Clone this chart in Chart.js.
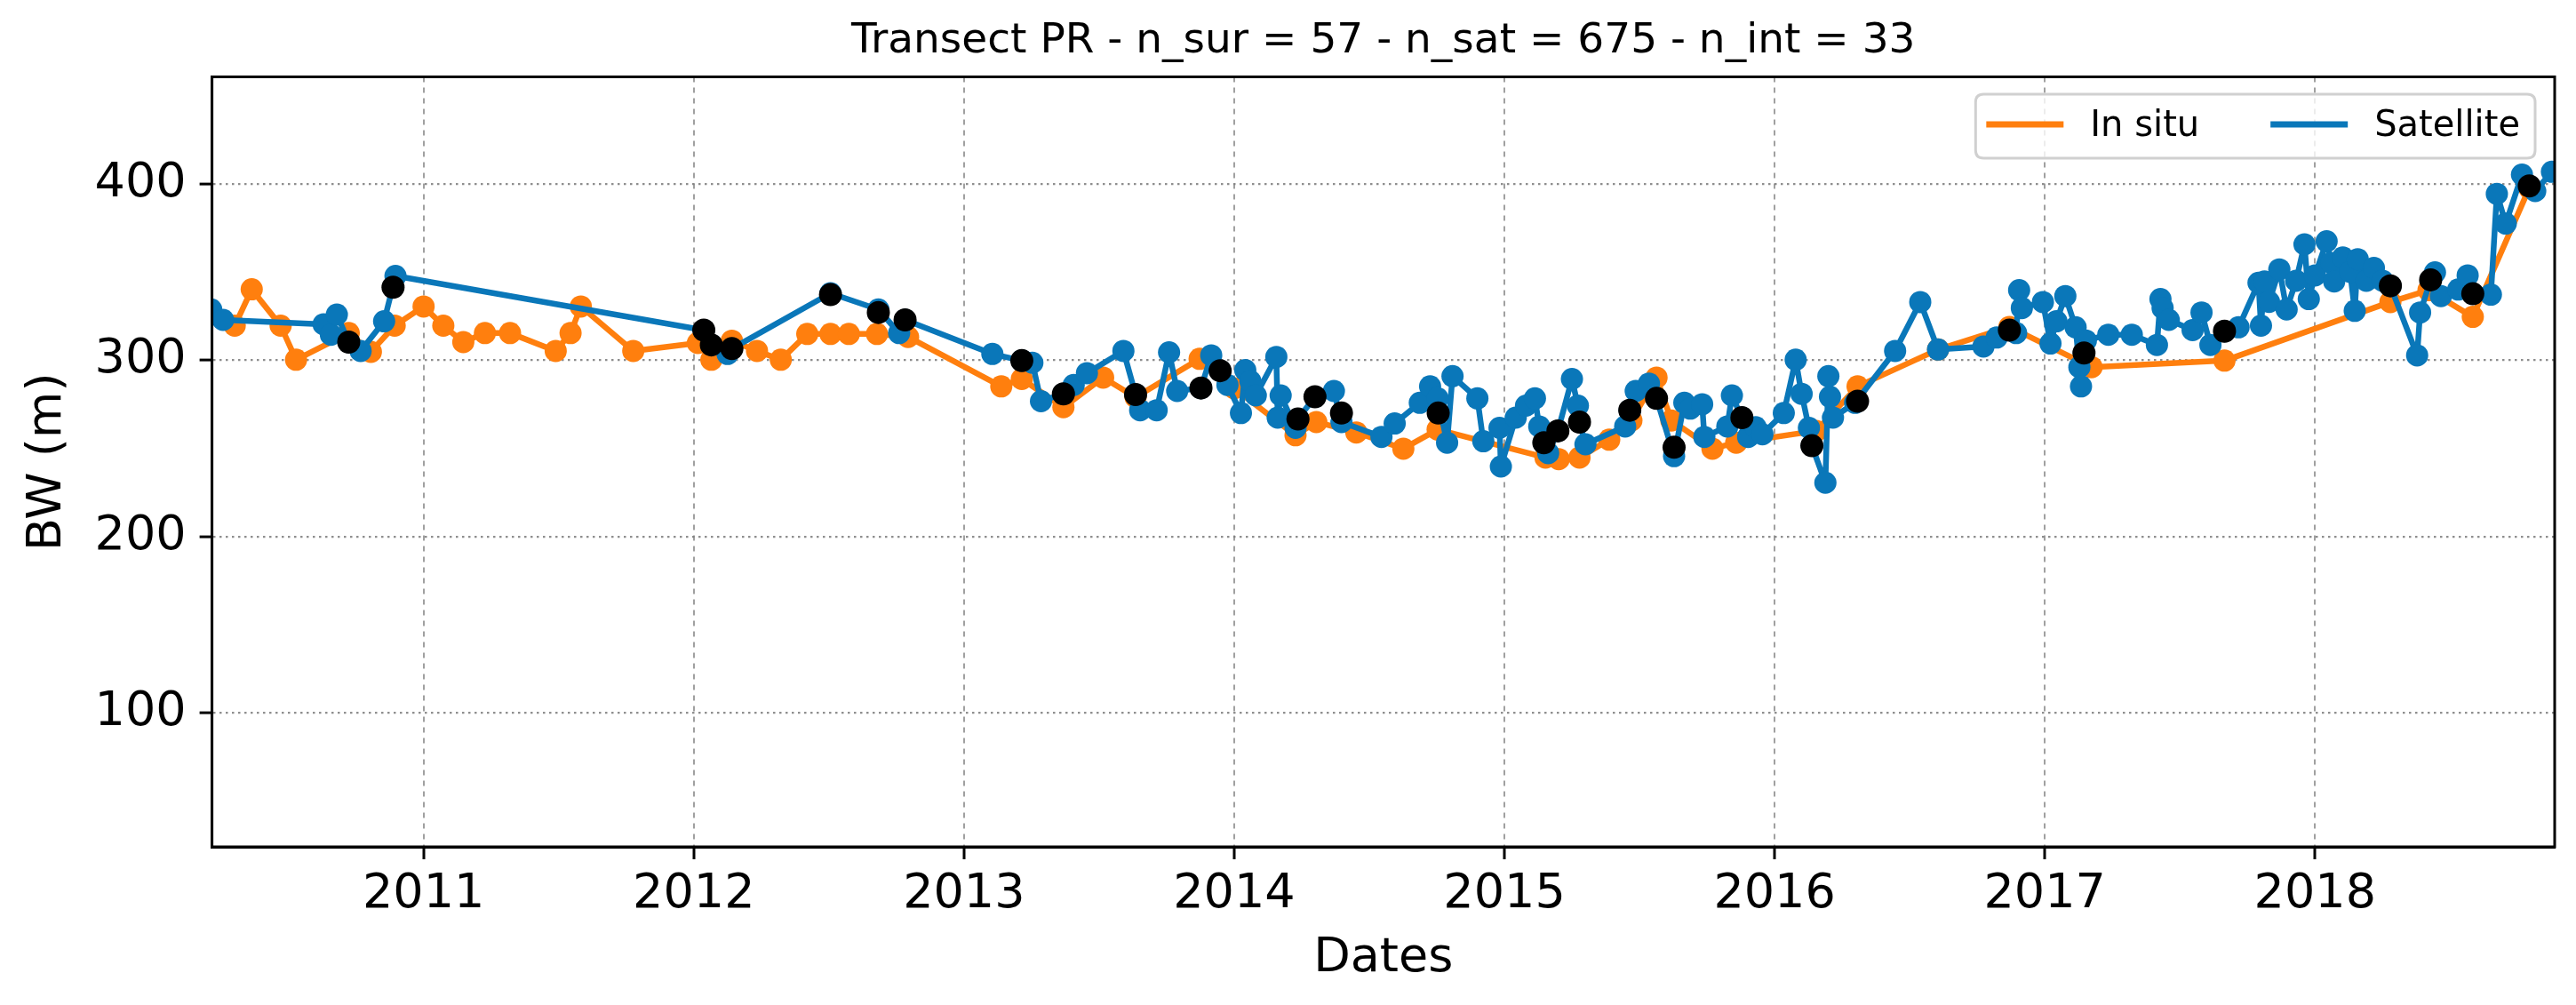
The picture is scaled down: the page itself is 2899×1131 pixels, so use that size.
<!DOCTYPE html>
<html>
<head>
<meta charset="utf-8">
<script src="https://cdn.jsdelivr.net/npm/chart.js@4.4.1/dist/chart.umd.min.js"></script>
<style>
html,body{margin:0;padding:0;background:#ffffff;}
#wrap{width:2899px;height:1131px;}
canvas{display:block;}
</style>
</head>
<body>
<div id="wrap"><canvas id="c" width="2899" height="1131" style="width:2899px;height:1131px"></canvas></div>
<script>
// ---------- data ----------
const titleText = 'Transect PR - n_sur = 57 - n_sat = 675 - n_int = 33';
const xTickYears = [2011, 2012, 2013, 2014, 2015, 2016, 2017, 2018];
const yTickValues = [100, 200, 300, 400];

const insituYears = [2010.301, 2010.364, 2010.471, 2010.528, 2010.723, 2010.805, 2010.893, 2011.000, 2011.073, 2011.147,
  2011.227, 2011.320, 2011.489, 2011.544, 2011.582, 2011.776, 2012.015, 2012.065, 2012.141, 2012.234,
  2012.322, 2012.420, 2012.506, 2012.574, 2012.678, 2012.793, 2013.138, 2013.214, 2013.368, 2013.515,
  2013.635, 2013.872, 2014.000, 2014.227, 2014.304, 2014.452, 2014.626, 2014.753, 2015.152, 2015.201,
  2015.278, 2015.388, 2015.470, 2015.563, 2015.618, 2015.770, 2015.858, 2016.154, 2016.307, 2016.605,
  2016.869, 2017.173, 2017.665, 2018.279, 2018.420, 2018.584, 2018.793];
const insituBW = [319.5, 340.1, 319.5, 300.2, 315.3, 304.7, 319.5, 330.4, 319.5, 310.2,
  315.3, 315.3, 305.2, 315.3, 330.4, 305.2, 309.7, 300.2, 311.0, 305.2,
  300.2, 314.8, 314.8, 314.8, 314.8, 313.1, 285.1, 289.3, 273.3, 290.1,
  279.0, 300.7, 284.0, 257.4, 264.9, 259.0, 249.8, 260.7, 244.8, 243.9,
  244.8, 254.9, 265.8, 290.1, 265.8, 249.8, 253.2, 259.9, 285.1, 306.0,
  318.8, 296.0, 299.7, 332.9, 339.6, 324.5, 397.5];

const satYears = [2010.214, 2010.258, 2010.630, 2010.657, 2010.679, 2010.723, 2010.767, 2010.854, 2010.896, 2012.037,
  2012.065, 2012.125, 2012.141, 2012.506, 2012.683, 2012.760, 2012.782, 2013.105, 2013.214, 2013.253,
  2013.285, 2013.368, 2013.406, 2013.455, 2013.590, 2013.635, 2013.652, 2013.713, 2013.759, 2013.789,
  2013.877, 2013.915, 2013.948, 2013.975, 2014.025, 2014.041, 2014.060, 2014.080, 2014.156, 2014.161,
  2014.172, 2014.227, 2014.236, 2014.299, 2014.369, 2014.397, 2014.545, 2014.594, 2014.687, 2014.725,
  2014.753, 2014.788, 2014.808, 2014.900, 2014.922, 2014.982, 2014.987, 2015.042, 2015.080, 2015.113,
  2015.129, 2015.146, 2015.162, 2015.198, 2015.250, 2015.272, 2015.278, 2015.300, 2015.447, 2015.464,
  2015.486, 2015.535, 2015.563, 2015.628, 2015.666, 2015.688, 2015.732, 2015.740, 2015.825, 2015.842,
  2015.879, 2015.902, 2015.930, 2015.955, 2016.034, 2016.078, 2016.100, 2016.127, 2016.138, 2016.188,
  2016.199, 2016.205, 2016.216, 2016.298, 2016.446, 2016.539, 2016.605, 2016.773, 2016.822, 2016.869,
  2016.894, 2016.905, 2016.915, 2016.993, 2017.021, 2017.043, 2017.076, 2017.114, 2017.128, 2017.134,
  2017.145, 2017.152, 2017.235, 2017.322, 2017.415, 2017.428, 2017.436, 2017.459, 2017.547, 2017.580,
  2017.613, 2017.665, 2017.717, 2017.791, 2017.800, 2017.813, 2017.830, 2017.868, 2017.895, 2017.930,
  2017.961, 2017.977, 2018.000, 2018.043, 2018.060, 2018.071, 2018.103, 2018.130, 2018.147, 2018.158,
  2018.190, 2018.218, 2018.250, 2018.279, 2018.378, 2018.389, 2018.428, 2018.444, 2018.466, 2018.530,
  2018.565, 2018.584, 2018.651, 2018.673, 2018.706, 2018.766, 2018.793, 2018.815, 2018.877];
const satBW = [328.7, 322.8, 320.3, 314.4, 325.8, 310.2, 305.2, 322.0, 347.7, 317.0,
  308.6, 303.5, 306.5, 337.9, 328.7, 315.3, 322.8, 303.5, 299.7, 298.5,
  276.7, 280.9, 285.9, 292.6, 305.2, 280.5, 271.6, 271.6, 304.4, 282.5,
  284.2, 302.7, 294.0, 285.9, 270.0, 294.3, 288.0, 280.0, 301.8, 267.4,
  280.0, 261.6, 266.6, 279.2, 282.5, 264.9, 256.5, 264.1, 275.8, 285.1,
  278.3, 253.2, 290.9, 278.3, 254.0, 261.6, 239.7, 267.4, 274.2, 278.3,
  262.4, 253.2, 247.3, 259.9, 289.3, 274.2, 264.9, 252.3, 262.4, 271.6,
  282.5, 286.7, 278.3, 245.6, 275.8, 272.5, 275.0, 256.5, 262.4, 280.0,
  267.4, 256.5, 262.0, 258.0, 270.0, 300.2, 280.9, 261.6, 251.5, 230.5,
  290.9, 279.2, 267.4, 275.8, 305.2, 332.9, 306.0, 307.7, 312.8, 317.0,
  315.3, 339.6, 329.5, 332.9, 309.4, 322.0, 336.3, 318.6, 296.0, 285.1,
  304.0, 311.1, 314.4, 314.4, 308.6, 334.6, 329.5, 322.8, 317.0, 327.0,
  308.6, 316.4, 318.6, 343.8, 319.5, 344.6, 333.0, 351.4, 328.7, 345.0,
  365.6, 334.6, 348.0, 367.3, 355.0, 344.6, 358.1, 350.0, 327.9, 357.2,
  345.0, 352.2, 345.0, 342.1, 302.7, 327.0, 345.5, 349.7, 336.3, 340.0,
  348.0, 337.6, 337.1, 394.2, 377.4, 405.1, 398.7, 395.8, 406.7];

const intYears = [2010.723, 2010.887, 2012.037, 2012.065, 2012.141, 2012.506, 2012.683, 2012.782, 2013.214, 2013.368,
  2013.635, 2013.877, 2013.948, 2014.236, 2014.299, 2014.397, 2014.755, 2015.146, 2015.198, 2015.278,
  2015.464, 2015.563, 2015.628, 2015.879, 2016.138, 2016.307, 2016.869, 2017.145, 2017.665, 2018.279,
  2018.428, 2018.584, 2018.793];
const intBW = [310.2, 341.3, 317.0, 308.6, 306.5, 337.1, 327.0, 322.8, 299.7, 280.9,
  280.5, 284.2, 294.0, 266.6, 279.2, 270.0, 270.0, 253.2, 259.9, 264.9,
  271.6, 278.3, 250.6, 267.4, 251.5, 276.7, 317.0, 304.0, 316.4, 342.1,
  345.5, 337.6, 398.7];

// ---------- style ----------
const FONT = "'DejaVu Sans', 'Liberation Sans', sans-serif";
const ORANGE = '#ff7f0e';
const BLUE = '#0a77b9';
const GRID_X = 'rgba(150,150,150,0.9)';
const GRID_Y = 'rgba(130,130,130,0.9)';

const toPoints = (xs, ys) => xs.map((x, i) => ({ x: x, y: ys[i] }));

// spines (full box round the axes)
const spinePlugin = {
  id: 'spines',
  afterDraw(chart) {
    const { ctx, chartArea: a } = chart;
    ctx.save();
    ctx.strokeStyle = '#000';
    ctx.lineWidth = 3;
    ctx.setLineDash([]);
    ctx.strokeRect(a.left, a.top, a.right - a.left, a.bottom - a.top);
    ctx.restore();
  }
};

// matplotlib-like legend in the upper right of the axes
const legendPlugin = {
  id: 'mplLegend',
  afterDraw(chart) {
    const { ctx, chartArea: a } = chart;
    const items = chart.data.datasets.filter(d => d.label && d.label.charAt(0) !== '_');
    ctx.save();
    ctx.font = '40px ' + FONT;
    const padL = 12, padR = 17, lineLen = 87, gapText = 30, gapItem = 80;
    let w = padL + padR;
    items.forEach((d, i) => {
      w += lineLen + gapText + ctx.measureText(d.label).width + (i < items.length - 1 ? gapItem : 0);
    });
    const h = 72;
    const x0 = a.right - 22 - w;
    const y0 = a.top + 19.5;
    const r = 9;
    ctx.beginPath();
    ctx.moveTo(x0 + r, y0);
    ctx.lineTo(x0 + w - r, y0);
    ctx.quadraticCurveTo(x0 + w, y0, x0 + w, y0 + r);
    ctx.lineTo(x0 + w, y0 + h - r);
    ctx.quadraticCurveTo(x0 + w, y0 + h, x0 + w - r, y0 + h);
    ctx.lineTo(x0 + r, y0 + h);
    ctx.quadraticCurveTo(x0, y0 + h, x0, y0 + h - r);
    ctx.lineTo(x0, y0 + r);
    ctx.quadraticCurveTo(x0, y0, x0 + r, y0);
    ctx.closePath();
    ctx.fillStyle = 'rgba(255,255,255,0.8)';
    ctx.fill();
    ctx.strokeStyle = '#d0d0d0';
    ctx.lineWidth = 3;
    ctx.stroke();
    let x = x0 + padL;
    const ly = y0 + 34;
    items.forEach((d, i) => {
      ctx.beginPath();
      ctx.strokeStyle = d.borderColor;
      ctx.lineWidth = 7;
      ctx.lineCap = 'butt';
      ctx.moveTo(x, ly);
      ctx.lineTo(x + lineLen, ly);
      ctx.stroke();
      ctx.fillStyle = '#000';
      ctx.textBaseline = 'middle';
      ctx.textAlign = 'left';
      ctx.fillText(d.label, x + lineLen + gapText, y0 + 37);
      x += lineLen + gapText + ctx.measureText(d.label).width + gapItem;
    });
    ctx.restore();
  }
};

const tickFont = { family: FONT, size: 54, weight: 'normal' };

new Chart(document.getElementById('c').getContext('2d'), {
  type: 'line',
  data: {
    datasets: [
      {
        label: 'In situ',
        data: toPoints(insituYears, insituBW),
        borderColor: ORANGE,
        backgroundColor: ORANGE,
        pointBackgroundColor: ORANGE,
        pointBorderWidth: 0,
        pointRadius: 12.5,
        borderWidth: 6.5,
        borderJoinStyle: 'round',
        tension: 0,
        fill: false,
        order: 3
      },
      {
        label: 'Satellite',
        data: toPoints(satYears, satBW),
        borderColor: BLUE,
        backgroundColor: BLUE,
        pointBackgroundColor: BLUE,
        pointBorderWidth: 0,
        pointRadius: 12.5,
        borderWidth: 6.5,
        borderJoinStyle: 'round',
        tension: 0,
        fill: false,
        order: 2
      },
      {
        label: '_intersections',
        data: toPoints(intYears, intBW),
        borderColor: '#000',
        backgroundColor: '#000',
        pointBackgroundColor: '#000',
        pointBorderWidth: 0,
        pointRadius: 13,
        showLine: false,
        order: 1
      }
    ]
  },
  options: {
    responsive: false,
    maintainAspectRatio: false,
    devicePixelRatio: 1,
    animation: false,
    events: [],
    layout: { padding: { left: 0, right: 24, top: 0, bottom: 0 } },
    plugins: {
      legend: { display: false },
      tooltip: { enabled: false },
      title: {
        display: true,
        text: titleText,
        fullSize: false,
        color: '#000',
        font: { family: FONT, size: 47, weight: 'normal', lineHeight: 1.2 },
        padding: { top: 18.5, bottom: 11.6 }
      }
    },
    scales: {
      x: {
        type: 'linear',
        min: 2010.217,
        max: 2018.887,
        afterBuildTicks: (s) => { s.ticks = xTickYears.map(v => ({ value: v })); },
        afterFit: (s) => { s.height = 178; },
        ticks: {
          color: '#000',
          font: tickFont,
          padding: 8,
          maxRotation: 0,
          autoSkip: false,
          callback: (v) => String(v)
        },
        grid: {
          color: GRID_X,
          lineWidth: 2,
          drawTicks: true,
          tickLength: 14,
          tickColor: '#000',
          tickWidth: 3,
          tickBorderDash: []
        },
        border: { display: true, color: '#000', width: 3, dash: [6, 6] },
        title: {
          display: true,
          text: 'Dates',
          color: '#000',
          font: tickFont,
          padding: { top: 0, bottom: 20 }
        }
      },
      y: {
        type: 'linear',
        min: 24.2,
        max: 460.5,
        afterBuildTicks: (s) => { s.ticks = yTickValues.map(v => ({ value: v })); },
        afterFit: (s) => { s.width = 238.6; },
        ticks: {
          color: '#000',
          font: tickFont,
          padding: 15,
          callback: (v) => String(v)
        },
        grid: {
          color: GRID_Y,
          lineWidth: 2.2,
          drawTicks: true,
          tickLength: 14,
          tickColor: '#000',
          tickWidth: 3,
          tickBorderDash: []
        },
        border: { display: true, color: '#000', width: 3, dash: [2.5, 4.5] },
        title: {
          display: true,
          text: 'BW (m)',
          color: '#000',
          font: tickFont,
          padding: { top: 22, bottom: 0 }
        }
      }
    }
  },
  plugins: [spinePlugin, legendPlugin]
});
</script>
</body>
</html>
